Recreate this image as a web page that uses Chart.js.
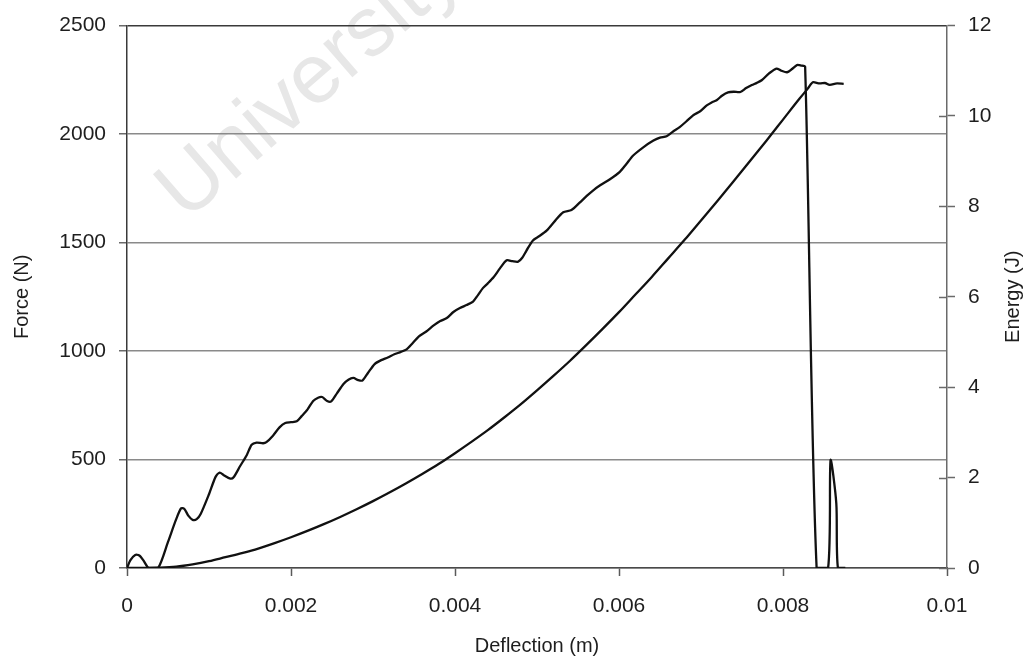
<!DOCTYPE html>
<html>
<head>
<meta charset="utf-8">
<script src="https://cdn.jsdelivr.net/npm/chart.js@4/dist/chart.umd.min.js"></script>
<style>
  html, body { margin: 0; padding: 0; background: #ffffff; }
  #wrap { width: 1028px; height: 662px; position: relative; }
</style>
</head>
<body>
<div id="wrap"><canvas id="c" width="1028" height="662"></canvas></div>
<script>
// Force–deflection record (m, N)
const forceDeflection = [
  0, 0.00004, 0.0001, 0.00015, 0.0002, 0.00025, 0.00028, 0.00038, 0.0005, 0.0006,
  0.00066, 0.0007, 0.00075, 0.0008, 0.00085, 0.0009, 0.001, 0.00108, 0.00113, 0.00118,
  0.00126, 0.0013, 0.00138, 0.00146, 0.00152, 0.00158, 0.00166, 0.0017, 0.00178, 0.00186,
  0.00193, 0.002, 0.00207, 0.00213, 0.0022, 0.00227, 0.00233, 0.00238, 0.00244, 0.00249,
  0.00256, 0.00264, 0.0027, 0.00276, 0.00282, 0.00287, 0.00294, 0.00302, 0.0031, 0.00318,
  0.00326, 0.00334, 0.00341, 0.00348, 0.00356, 0.00365, 0.00374, 0.00382, 0.0039, 0.00398,
  0.00406, 0.00414, 0.00422, 0.00428, 0.00434, 0.0044, 0.00447, 0.00455, 0.00463, 0.0047,
  0.00477, 0.00482, 0.00487, 0.00495, 0.00503, 0.00512, 0.00522, 0.00532, 0.00542, 0.00552,
  0.00561, 0.00569, 0.00577, 0.00589, 0.00601, 0.00609, 0.00617, 0.0063, 0.00642, 0.0065,
  0.00658, 0.00666, 0.00674, 0.00682, 0.00691, 0.00699, 0.00707, 0.00713, 0.00719, 0.00726,
  0.00733, 0.0074, 0.00748, 0.00755, 0.00762, 0.00768, 0.00774, 0.00783, 0.00792, 0.00798,
  0.00805, 0.00811, 0.00817, 0.00822, 0.00827, 0.00841, 0.00855, 0.00858, 0.00865, 0.00867,
  0.00876
];
const forceValues = [
  0, 35, 60, 58, 35, 5, 0, 0, 120, 225,
  275, 272, 240, 222, 225, 250, 340, 420, 440, 428,
  412, 418, 470, 520, 568, 578, 575, 580, 610, 648,
  668, 672, 676, 700, 730, 770, 785, 788, 770, 768,
  805, 848, 868, 876, 866, 864, 900, 940, 958, 970,
  985, 996, 1008, 1035, 1068, 1090, 1118, 1138, 1152, 1180,
  1198, 1212, 1228, 1258, 1290, 1312, 1340, 1382, 1418, 1414,
  1412, 1430, 1462, 1510, 1530, 1556, 1600, 1640, 1650, 1684,
  1716, 1742, 1764, 1792, 1826, 1862, 1900, 1940, 1970, 1984,
  1990, 2012, 2032, 2058, 2088, 2105, 2132, 2146, 2156, 2178,
  2192, 2195, 2194, 2212, 2226, 2236, 2248, 2280, 2302, 2292,
  2285, 2300, 2318, 2316, 2310, 0, 0, 497, 298, 0,
  0
];

// Absorbed energy (m, J)
const energyDeflection = [
  0, 0.0004, 0.0006, 0.0008, 0.001, 0.0012, 0.0014, 0.0016, 0.0018, 0.002,
  0.0022, 0.0024, 0.0026, 0.0028, 0.003, 0.0032, 0.0034, 0.0036, 0.0038, 0.004,
  0.0042, 0.0044, 0.0046, 0.0048, 0.005, 0.0052, 0.0054, 0.0056, 0.0058, 0.006,
  0.0062, 0.0064, 0.0066, 0.0068, 0.007, 0.0072, 0.0074, 0.0076, 0.0078, 0.008,
  0.0082, 0.0083, 0.00837, 0.00845, 0.00851, 0.00857, 0.00866, 0.00874
];
const energyValues = [
  0, 0.01, 0.03, 0.08, 0.15, 0.24, 0.33, 0.43, 0.55, 0.68,
  0.82, 0.97, 1.13, 1.3, 1.48, 1.67, 1.87, 2.08, 2.3, 2.54,
  2.79, 3.05, 3.33, 3.62, 3.93, 4.25, 4.58, 4.93, 5.29, 5.66,
  6.05, 6.44, 6.85, 7.26, 7.69, 8.12, 8.56, 9.01, 9.46, 9.92,
  10.38, 10.6, 10.75, 10.72, 10.73, 10.69, 10.72, 10.71
];

// Axis ticks
const xTicks = [0, 0.002, 0.004, 0.006, 0.008, 0.01];
const xTickLabels = ['0', '0.002', '0.004', '0.006', '0.008', '0.01'];
const forceTicks = [0, 500, 1000, 1500, 2000, 2500];
const energyTicks = [0, 2, 4, 6, 8, 10, 12];

const FONT = '"Liberation Sans", Arial, Helvetica, sans-serif';
const TEXT = '#1e1e1e';

const toPoints = (xs, ys) => xs.map((x, i) => ({ x: x, y: ys[i] }));

const decor = {
  id: 'decor',
  beforeDraw(chart) {
    const ctx = chart.ctx;
    ctx.save();
    ctx.fillStyle = '#ffffff';
    ctx.fillRect(0, 0, chart.width, chart.height);
    // faint watermark
    ctx.translate(186, 222);
    ctx.rotate(-41 * Math.PI / 180);
    ctx.font = '84px ' + FONT;
    ctx.fillStyle = '#e7e7e7';
    ctx.textBaseline = 'alphabetic';
    ctx.fillText('University of Cape Town', 0, 0);
    ctx.restore();
  },
  afterDraw(chart) {
    const ctx = chart.ctx;
    const y2 = chart.scales.y2;
    const area = chart.chartArea;
    ctx.save();
    // right-axis tick marks cross the axis line
    ctx.strokeStyle = '#6a6a6a';
    ctx.lineWidth = 1.5;
    energyTicks.forEach(v => {
      if (v === 12) return;
      const py = Math.round(y2.getPixelForValue(v)) + 0.5;
      ctx.beginPath();
      ctx.moveTo(area.right - 8, py);
      ctx.lineTo(area.right, py);
      ctx.stroke();
    });
    // right-axis title, reading upward
    ctx.translate(1013, (area.top + area.bottom) / 2);
    ctx.rotate(-Math.PI / 2);
    ctx.font = '20px ' + FONT;
    ctx.fillStyle = TEXT;
    ctx.textAlign = 'center';
    ctx.textBaseline = 'middle';
    ctx.fillText('Energy (J)', 0, 0);
    ctx.restore();
  }
};

new Chart(document.getElementById('c'), {
  type: 'line',
  data: {
    datasets: [
      {
        label: 'Force',
        data: toPoints(forceDeflection, forceValues),
        yAxisID: 'y',
        borderColor: '#111111',
        borderWidth: 2.3,
        pointRadius: 0,
        tension: 0.25,
        fill: false
      },
      {
        label: 'Energy',
        data: toPoints(energyDeflection, energyValues),
        yAxisID: 'y2',
        borderColor: '#111111',
        borderWidth: 2.3,
        pointRadius: 0,
        cubicInterpolationMode: 'monotone',
        fill: false
      }
    ]
  },
  options: {
    responsive: false,
    devicePixelRatio: 1,
    animation: false,
    layout: { padding: { top: 25, left: 0, right: 0, bottom: 0 } },
    plugins: {
      legend: { display: false },
      tooltip: { enabled: false }
    },
    scales: {
      x: {
        type: 'linear',
        position: 'bottom',
        min: 0,
        max: 0.01,
        afterBuildTicks: s => { s.ticks = xTicks.map(v => ({ value: v })); },
        afterFit: s => { s.height = 94; },
        ticks: {
          callback: (v, i) => xTickLabels[i],
          font: { size: 21, family: FONT },
          color: TEXT,
          padding: 18,
          maxRotation: 0
        },
        grid: {
          drawOnChartArea: false,
          drawTicks: true,
          tickLength: 8,
          tickColor: '#5a5a5a',
          tickWidth: 1.5
        },
        border: { color: '#4a4a4a', width: 1.5 },
        title: {
          display: true,
          text: 'Deflection (m)',
          font: { size: 20, family: FONT },
          color: TEXT,
          padding: { top: 0, bottom: 4 }
        }
      },
      y: {
        type: 'linear',
        position: 'left',
        min: 0,
        max: 2500,
        afterBuildTicks: s => { s.ticks = forceTicks.map(v => ({ value: v })); },
        afterFit: s => { s.width = 127; },
        ticks: {
          callback: v => String(v),
          font: { size: 21, family: FONT },
          color: TEXT,
          padding: 13
        },
        grid: {
          drawOnChartArea: true,
          drawTicks: true,
          tickLength: 8,
          color: c => (c.tick && c.tick.value === 2500) ? '#3a3a3a' : '#8a8a8a',
          lineWidth: 1.5,
          tickColor: '#6a6a6a',
          tickWidth: 1.5
        },
        border: { color: '#3a3a3a', width: 1.5 },
        title: {
          display: true,
          text: 'Force (N)',
          font: { size: 20, family: FONT },
          color: TEXT,
          padding: { top: 10, bottom: 0 }
        }
      },
      y2: {
        type: 'linear',
        position: 'right',
        min: 0,
        max: 12,
        afterBuildTicks: s => { s.ticks = energyTicks.map(v => ({ value: v })); },
        afterFit: s => { s.width = 81; },
        ticks: {
          callback: v => String(v),
          font: { size: 21, family: FONT },
          color: TEXT,
          padding: 13
        },
        grid: {
          drawOnChartArea: false,
          drawTicks: true,
          tickLength: 8,
          tickColor: '#6a6a6a',
          tickWidth: 1.5
        },
        border: { color: '#6a6a6a', width: 1.5 },
        title: { display: false }
      }
    }
  },
  plugins: [decor]
});
</script>
</body>
</html>
